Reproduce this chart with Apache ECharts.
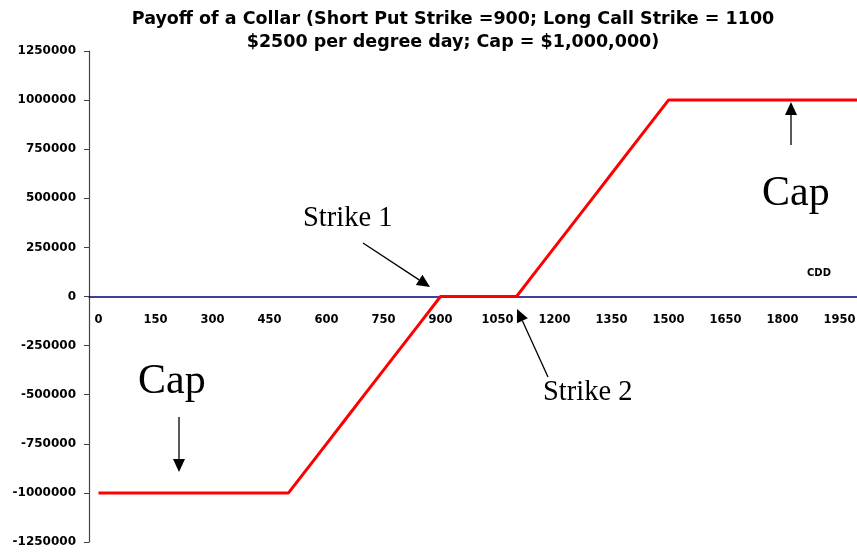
<!DOCTYPE html>
<html>
<head>
<meta charset="utf-8">
<title>Payoff of a Collar</title>
<script src="https://cdn.jsdelivr.net/npm/echarts@6/dist/echarts.min.js"></script>
<style>
  html, body { margin: 0; padding: 0; background: #fff; }
  #chart { width: 857px; height: 552px; }
</style>
</head>
<body>
<div id="chart"></div>
<script>
// CDD categories, every 50 degree days
const cdd = [
  0, 50, 100, 150, 200, 250, 300, 350, 400, 450, 500,
  550, 600, 650, 700, 750, 800, 850, 900, 950, 1000,
  1050, 1100, 1150, 1200, 1250, 1300, 1350, 1400, 1450, 1500,
  1550, 1600, 1650, 1700, 1750, 1800, 1850, 1900, 1950, 2000
];

// collar payoff
const payoff = [
  -1000000, -1000000, -1000000, -1000000, -1000000, -1000000, -1000000, -1000000, -1000000, -1000000, -1000000,
  -875000, -750000, -625000, -500000, -375000, -250000, -125000, 0, 0, 0,
  0, 0, 125000, 250000, 375000, 500000, 625000, 750000, 875000, 1000000,
  1000000, 1000000, 1000000, 1000000, 1000000, 1000000, 1000000, 1000000, 1000000, 1000000
];

const yMin = -1250000;
const yMax = 1250000;
const yStep = 250000;

const gridTop = 51;
const gridHeight = 491;
// x axis sits on the zero line: move it up from the grid bottom
const zeroOffset = -gridHeight * (0 - yMin) / (yMax - yMin);

const chart = echarts.init(document.getElementById('chart'));

const serif = '"Liberation Serif", "Times New Roman", serif';
const sans = '"DejaVu Sans", Arial, sans-serif';

// arrow helper (annotation only)
function arrow(x1, y1, x2, y2) {
  const dx = x2 - x1, dy = y2 - y1;
  const len = Math.sqrt(dx * dx + dy * dy);
  const ux = dx / len, uy = dy / len;
  const hl = 13, hw = 6;
  const bx = x2 - ux * hl, by = y2 - uy * hl;
  return [
    {
      type: 'line',
      shape: { x1: x1, y1: y1, x2: bx, y2: by },
      style: { stroke: '#000', lineWidth: 1.3 },
      z: 100
    },
    {
      type: 'polygon',
      shape: { points: [[x2, y2], [bx - uy * hw, by + ux * hw], [bx + uy * hw, by - ux * hw]] },
      style: { fill: '#000' },
      z: 100
    }
  ];
}

function label(text, x, y, size, font, weight) {
  return {
    type: 'text',
    x: x,
    y: y,
    style: {
      text: text,
      fontSize: size,
      fontFamily: font,
      fontWeight: weight || 'normal',
      fill: '#000',
      align: 'left',
      verticalAlign: 'middle'
    },
    z: 100
  };
}

const option = {
  animation: false,
  title: {
    text: 'Payoff of a Collar (Short Put Strike =900; Long Call Strike = 1100\n$2500 per degree day; Cap = $1,000,000)',
    left: 448,
    textAlign: 'center',
    top: 3,
    textStyle: {
      fontFamily: sans,
      fontWeight: 'bold',
      fontSize: 17.5,
      lineHeight: 23,
      color: '#000'
    }
  },
  grid: {
    left: 89,
    top: gridTop,
    width: 779,
    height: gridHeight,
    outerBoundsMode: 'none',
    containLabel: false
  },
  xAxis: {
    type: 'category',
    data: cdd,
    boundaryGap: true,
    offset: zeroOffset,
    axisLine: { onZero: false, lineStyle: { color: '#000080', width: 1.5 } },
    axisTick: { interval: 1, length: 5, lineStyle: { color: '#222' } },
    axisLabel: {
      interval: 2,
      margin: 18,
      fontFamily: sans,
      fontWeight: 'bold',
      fontSize: 11.5,
      color: '#000'
    },
    splitLine: { show: false }
  },
  yAxis: {
    type: 'value',
    min: yMin,
    max: yMax,
    interval: yStep,
    axisLine: { show: true, onZero: false, lineStyle: { color: '#444', width: 1.2 } },
    axisTick: { show: true, length: 5, lineStyle: { color: '#444' } },
    axisLabel: {
      margin: 13,
      fontFamily: sans,
      fontWeight: 'bold',
      fontSize: 12,
      color: '#000',
      formatter: function (v) { return String(v); }
    },
    splitLine: { show: false }
  },
  series: [
    {
      name: 'Collar',
      type: 'line',
      data: payoff,
      symbol: 'none',
      lineStyle: { color: '#ff0000', width: 3 },
      z: 5
    }
  ],
  graphic: [
    label('Strike 1', 303, 219, 28.5, serif),
    label('Strike 2', 543, 393, 28.5, serif),
    label('Cap', 138, 382, 42, serif),
    label('Cap', 762, 194, 42, serif),
    label('CDD', 807, 273, 10, sans, 'bold')
  ]
    .concat(arrow(363, 243, 430, 287))
    .concat(arrow(548, 377, 517, 309))
    .concat(arrow(791, 145, 791, 102))
    .concat(arrow(179, 417, 179, 472))
};

chart.setOption(option);
</script>
</body>
</html>
